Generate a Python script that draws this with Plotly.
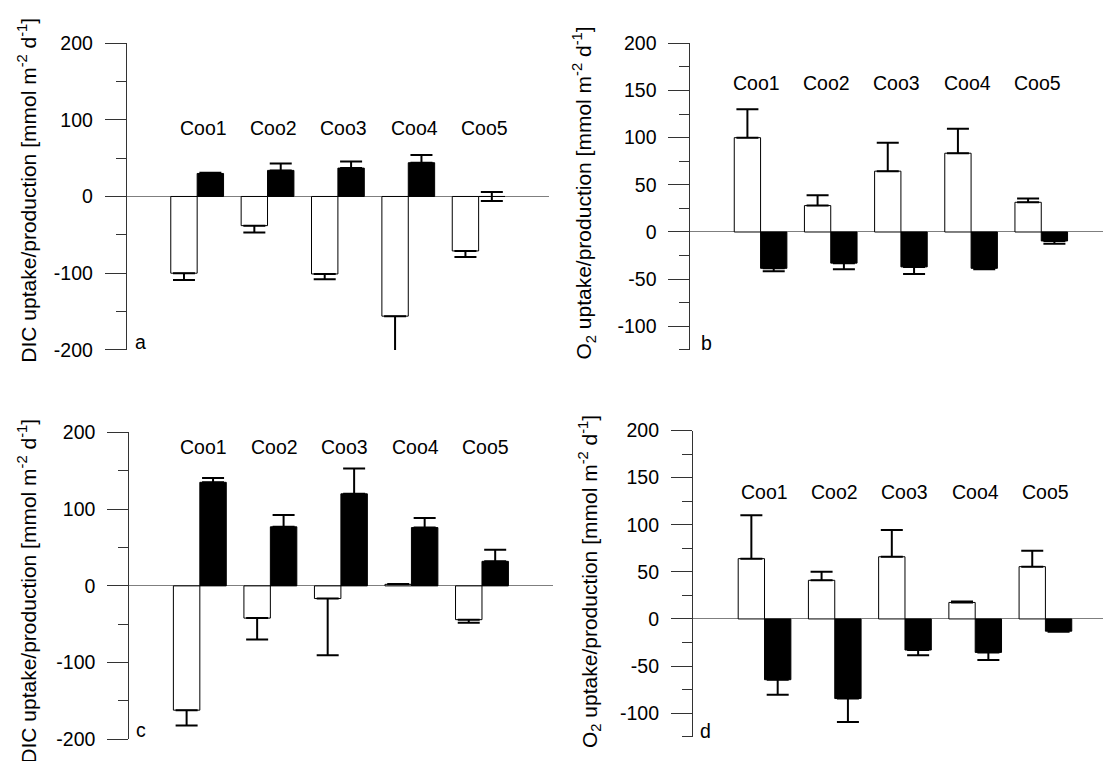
import plotly.graph_objects as go

W, H = 1103, 761

categories = ["Coo1", "Coo2", "Coo3", "Coo4", "Coo5"]

# Panel a: DIC (white / black bars)
a_white = [-100, -38, -101, -156, -71]
a_white_err = [9, 9, 7, 48, 8]
a_black = [30, 34, 37, 44, 0]
a_black_err = [1, 9, 8.5, 10, 6]

# Panel b: O2
b_white = [100, 28, 64.5, 83.5, 31.5]
b_white_err = [30, 11, 30, 26, 4]
b_black = [-38.5, -33, -37, -38.5, -9.5]
b_black_err = [3, 6.5, 7.5, 1, 3]

# Panel c: DIC
c_white = [-162, -42, -16.5, 2, -44]
c_white_err = [20, 28, 74, 0.5, 4]
c_black = [135, 77, 120, 76, 32]
c_black_err = [5.5, 15.5, 33, 12.5, 15]

# Panel d: O2
d_white = [64, 41, 66, 17.5, 55.5]
d_white_err = [46, 9, 28.5, 1, 17]
d_black = [-64.5, -84.5, -33, -35.5, -13]
d_black_err = [16, 25, 5.5, 8, 0.5]

dic_ticks = [-200, -100, 0, 100, 200]
o2_ticks = [-100, -50, 0, 50, 100, 150, 200]

DIC_TITLE = "DIC uptake/production [mmol m<sup>-2</sup> d<sup>-1</sup>]"
O2_TITLE = "O<sub>2</sub> uptake/production [mmol m<sup>-2</sup> d<sup>-1</sup>]"

FONT = "Arial, Liberation Sans, sans-serif"
FS = 19.5
FS_TITLE = 21

def px_x(p):
    return p / W

def px_y(p):
    return 1 - p / H

def err_dirs(vals, errs):
    plus, minus = [], []
    for v, e in zip(vals, errs):
        if v > 0:
            plus.append(e); minus.append(0)
        elif v < 0:
            plus.append(0); minus.append(e)
        else:
            plus.append(e); minus.append(e)
    return plus, minus

fig = go.Figure()

panels = [
    ("", a_white, a_white_err, a_black, a_black_err, (126.8, 549), [-1, 5], (33, 349), [-200, 200], dic_ticks, 50, DIC_TITLE, (27, 185), "a", (140, 341), 120.7, 6),
    ("2", b_white, b_white_err, b_black, b_black_err, (690.4, W), [-1, 4.88], (33.3, 349), [-125, 200], o2_ticks, 25, O2_TITLE, (584, 188), "b", (706, 342), 74, -4),
    ("3", c_white, c_white_err, c_black, c_black_err, (129.3, 552.5), [-1, 5], (434, 750), [-200, 200], dic_ticks, 50, DIC_TITLE, (27, 598), "c", (141.3, 740), 449, 4),
    ("4", d_white, d_white_err, d_black, d_black_err, (692.9, W), [-1.02, 4.82], (432, 747.3), [-125, 200], o2_ticks, 25, O2_TITLE, (589, 588), "d", (705, 741), 495, 0),
]

annotations = []
for (sfx, wv, we, bv, be, xdom, xr, ydom, yr, ticks, minor_dt, title, txy, letter, lxy, laby, labshift) in panels:
    xa = "x" + sfx
    ya = "y" + sfx
    wp, wm = err_dirs(wv, we)
    bp, bm = err_dirs(bv, be)
    fig.add_trace(go.Bar(
        x=categories, y=wv, xaxis=xa, yaxis=ya, showlegend=False,
        marker=dict(color="white", line=dict(color="black", width=1)),
        error_y=dict(type="data", symmetric=False, array=wp, arrayminus=wm,
                     color="black", thickness=2, width=11),
    ))
    fig.add_trace(go.Bar(
        x=categories, y=bv, xaxis=xa, yaxis=ya, showlegend=False,
        marker=dict(color="black", line=dict(color="black", width=1)),
        error_y=dict(type="data", symmetric=False, array=bp, arrayminus=bm,
                     color="black", thickness=2, width=11),
    ))
    xkey = "xaxis" + sfx
    ykey = "yaxis" + sfx
    fig.layout[xkey] = dict(
        domain=[px_x(xdom[0]), min(1.0, px_x(xdom[1]))], range=xr, type="category",
        showline=False, showticklabels=False, ticks="", showgrid=False, zeroline=False,
        anchor=ya, fixedrange=True,
    )
    fig.layout[ykey] = dict(
        domain=[px_y(ydom[1]), px_y(ydom[0])], range=yr, anchor=xa,
        showline=True, linecolor="#333333", linewidth=1,
        ticks="outside", ticklen=21, tickwidth=1, tickcolor="#333333",
        tickvals=ticks, ticktext=[str(t) for t in ticks],
        tickfont=dict(family=FONT, size=FS, color="black"),
        ticklabelstandoff=8,
        minor=dict(dtick=minor_dt, tick0=0, ticks="outside", ticklen=10,
                   tickwidth=1, tickcolor="#333333", showgrid=False),
        showgrid=False, zeroline=True, zerolinecolor="#7f7f7f", zerolinewidth=1,
        fixedrange=True,
    )
    for c in categories:
        annotations.append(dict(
            x=c, xref=xa, y=px_y(laby), yref="paper", text=c, showarrow=False,
            xanchor="center", yanchor="middle", xshift=labshift,
            font=dict(family=FONT, size=FS, color="black"),
        ))
    annotations.append(dict(
        x=px_x(txy[0]), y=px_y(txy[1]), xref="paper", yref="paper", text=title,
        textangle=-90, showarrow=False, xanchor="center", yanchor="middle",
        font=dict(family=FONT, size=FS_TITLE, color="black"),
    ))
    annotations.append(dict(
        x=px_x(lxy[0]), y=px_y(lxy[1]), xref="paper", yref="paper", text=letter,
        showarrow=False, xanchor="center", yanchor="middle",
        font=dict(family=FONT, size=FS, color="black"),
    ))

fig.update_layout(
    width=W, height=H,
    margin=dict(l=0, r=0, t=0, b=0),
    paper_bgcolor="white", plot_bgcolor="rgba(0,0,0,0)",
    barmode="group", bargap=0.25, bargroupgap=0,
    annotations=annotations,
    showlegend=False,
)

fig.write_html("out.html")
